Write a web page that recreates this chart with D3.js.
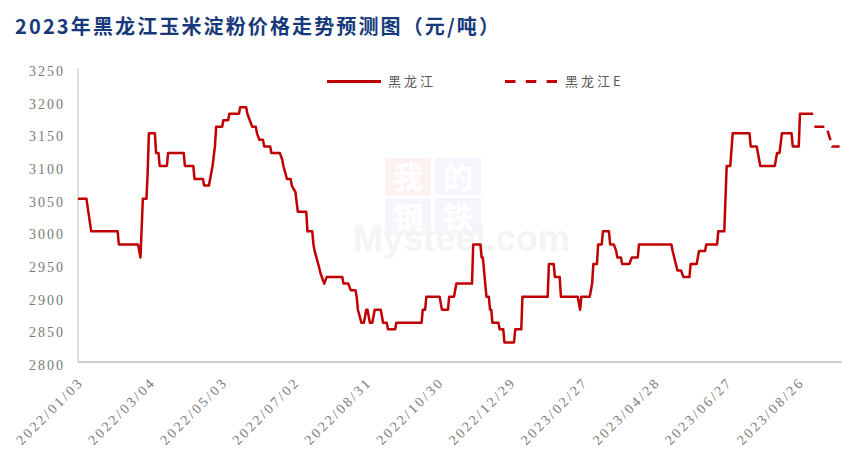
<!DOCTYPE html>
<html><head><meta charset="utf-8">
<script src="https://cdn.jsdelivr.net/npm/d3@7"></script>
<style>body{margin:0;background:#fff}svg{display:block}</style>
</head><body>
<svg id="c" width="867" height="471"></svg>
<script>
const title = "2023年黑龙江玉米淀粉价格走势预测图（元/吨）";
const seriesNames = ["黑龙江", "黑龙江E"];
const dates = ["2022-01-03","2022-01-10","2022-01-14","2022-02-05","2022-02-06","2022-02-22","2022-02-23","2022-02-24","2022-02-26","2022-03-01","2022-03-02","2022-03-03","2022-03-08","2022-03-09","2022-03-11","2022-03-12","2022-03-18","2022-03-19","2022-04-01","2022-04-02","2022-04-09","2022-04-10","2022-04-17","2022-04-18","2022-04-22","2022-04-25","2022-04-27","2022-04-28","2022-05-03","2022-05-04","2022-05-08","2022-05-09","2022-05-17","2022-05-18","2022-05-23","2022-05-24","2022-05-26","2022-05-28","2022-05-31","2022-06-01","2022-06-03","2022-06-06","2022-06-07","2022-06-12","2022-06-13","2022-06-20","2022-06-22","2022-06-23","2022-06-26","2022-06-29","2022-06-30","2022-07-03","2022-07-05","2022-07-12","2022-07-13","2022-07-17","2022-07-18","2022-07-19","2022-07-22","2022-07-24","2022-07-27","2022-07-29","2022-08-11","2022-08-12","2022-08-16","2022-08-18","2022-08-22","2022-08-23","2022-08-24","2022-08-27","2022-08-29","2022-08-31","2022-09-01","2022-09-03","2022-09-05","2022-09-07","2022-09-12","2022-09-14","2022-09-17","2022-09-18","2022-09-24","2022-09-25","2022-10-16","2022-10-17","2022-10-19","2022-10-20","2022-10-31","2022-11-02","2022-11-07","2022-11-08","2022-11-12","2022-11-14","2022-11-27","2022-11-28","2022-12-04","2022-12-05","2022-12-06","2022-12-09","2022-12-11","2022-12-12","2022-12-13","2022-12-14","2022-12-19","2022-12-20","2022-12-23","2022-12-24","2023-01-01","2023-01-02","2023-01-07","2023-01-08","2023-01-29","2023-01-30","2023-02-03","2023-02-04","2023-02-08","2023-02-09","2023-02-23","2023-02-25","2023-02-26","2023-03-05","2023-03-07","2023-03-08","2023-03-11","2023-03-12","2023-03-15","2023-03-16","2023-03-21","2023-03-22","2023-03-25","2023-03-27","2023-03-28","2023-03-31","2023-04-01","2023-04-07","2023-04-09","2023-04-14","2023-04-15","2023-05-12","2023-05-13","2023-05-17","2023-05-20","2023-05-22","2023-05-27","2023-05-28","2023-06-02","2023-06-04","2023-06-09","2023-06-10","2023-06-19","2023-06-20","2023-06-25","2023-06-27","2023-06-30","2023-07-02","2023-07-16","2023-07-17","2023-07-22","2023-07-23","2023-07-25","2023-08-06","2023-08-08","2023-08-10","2023-08-12","2023-08-20","2023-08-21","2023-08-26","2023-08-27","2023-09-07"];
const values = [3050,3050,3000,3000,2980,2980,2970,2960,3050,3050,3090,3150,3150,3120,3120,3100,3100,3120,3120,3100,3100,3080,3080,3070,3070,3100,3130,3160,3160,3170,3170,3180,3180,3190,3190,3180,3170,3160,3160,3150,3140,3140,3130,3130,3120,3120,3110,3100,3080,3080,3070,3060,3030,3030,3000,3000,2980,2970,2950,2935,2920,2930,2930,2920,2920,2910,2910,2900,2880,2860,2860,2880,2880,2860,2860,2880,2880,2860,2860,2850,2850,2860,2860,2880,2880,2900,2900,2880,2880,2900,2900,2920,2920,2980,2980,2960,2960,2900,2900,2880,2880,2860,2860,2850,2850,2830,2830,2850,2850,2900,2900,2950,2950,2930,2930,2900,2900,2880,2900,2900,2920,2950,2950,2980,2980,3000,3000,2980,2980,2970,2960,2960,2950,2950,2960,2960,2980,2980,2970,2940,2940,2930,2930,2950,2950,2970,2970,2980,2980,3000,3000,3100,3100,3150,3150,3130,3130,3120,3100,3100,3120,3120,3150,3150,3130,3130,3180,3180];
const forecastDates = ["2023-09-08","2023-09-18","2023-09-23","2023-09-29"];
const forecastValues = [3160,3160,3130,3130];
const yTicks = [2800,2850,2900,2950,3000,3050,3100,3150,3200,3250];
const xTickLabels = ["2022/01/03","2022/03/04","2022/05/03","2022/07/02","2022/08/31","2022/10/30","2022/12/29","2023/02/27","2023/04/28","2023/06/27","2023/08/26"];
const xDomain = ["2022-01-03","2023-10-01"];

const parse = d3.timeParse("%Y-%m-%d");
const parseTick = d3.timeParse("%Y/%m/%d");
const fmtTick = d3.timeFormat("%Y/%m/%d");
const main = dates.map((d,i)=>({date:parse(d), v:values[i]}));
const fc = forecastDates.map((d,i)=>({date:parse(d), v:forecastValues[i]}));

const svg = d3.select("#c");
const L = 78, R = 842, T = 68, B = 362;
const x = d3.scaleTime().domain(xDomain.map(parse)).range([L, R]);
const y = d3.scaleLinear().domain([2800, 3250]).range([B, T]);
const red = "#C00000";
const labFont = "'Liberation Serif', 'DejaVu Serif', serif";

// watermark
const wm = svg.append("g");
const cells = [
  {t:"我", x:385, y:158, f:"#fdf2f2"},
  {t:"的", x:435, y:158, f:"#f4f6fb"},
  {t:"钢", x:385, y:198, f:"#f4f6fb"},
  {t:"铁", x:435, y:198, f:"#f4f6fb"}];
wm.selectAll("rect").data(cells).join("rect")
  .attr("x",d=>d.x).attr("y",d=>d.y).attr("width",46).attr("height",37).attr("fill",d=>d.f);
wm.selectAll("text.c").data(cells).join("text").attr("class","c")
  .attr("x",d=>d.x+23).attr("y",d=>d.y+30).attr("text-anchor","middle")
  .attr("font-family","'Noto Sans CJK SC'").attr("font-weight","bold").attr("font-size",30)
  .attr("fill","#ffffff").text(d=>d.t);
wm.append("text").attr("x",353).attr("y",251).attr("font-family","'Liberation Sans', Arial, sans-serif")
  .attr("font-weight","bold").attr("font-size",36).attr("fill","#f4f4f4")
  .attr("textLength",217).attr("lengthAdjust","spacingAndGlyphs").text("Mysteel.com");

// title
svg.append("text").attr("x",15).attr("y",34)
  .attr("font-family","'Noto Sans CJK SC', sans-serif").attr("font-weight","bold")
  .attr("font-size",20).attr("fill","#17397A")
  .attr("textLength",484).attr("lengthAdjust","spacing").text(title);

// axes lines
svg.append("line").attr("x1",L).attr("x2",L).attr("y1",T).attr("y2",B).attr("stroke","#bfbfbf").attr("stroke-width",1);
svg.append("line").attr("x1",L).attr("x2",R).attr("y1",B).attr("y2",B).attr("stroke","#bfbfbf").attr("stroke-width",1.5);

// y axis labels
const ya = svg.append("g").attr("transform",`translate(${L},0)`)
  .call(d3.axisLeft(y).tickValues(yTicks).tickSize(0).tickPadding(13).tickFormat(d3.format("d")));
ya.select(".domain").remove();
ya.selectAll("text").attr("font-family",labFont).attr("font-size",14).attr("fill","#7a7a7a")
  .style("letter-spacing","2px").attr("dy","0.32em").attr("y",3);

// x axis labels
const xa = svg.append("g").attr("transform",`translate(0,${B})`)
  .call(d3.axisBottom(x).tickValues(xTickLabels.map(parseTick)).tickSize(0).tickFormat(fmtTick));
xa.select(".domain").remove();
xa.selectAll("text").attr("font-family",labFont).attr("font-size",14).attr("fill","#7a7a7a")
  .style("letter-spacing","2.5px").attr("x",0).attr("y",0).attr("dy",0)
  .attr("text-anchor","end").attr("transform","translate(6,21) rotate(-45)");

// lines
const line = d3.line().x(d=>x(d.date)).y(d=>y(d.v));
svg.append("path").datum(main).attr("d",line).attr("fill","none").attr("stroke",red)
  .attr("stroke-width",2.5).attr("stroke-linejoin","round");
svg.append("path").datum(fc).attr("d",line).attr("fill","none").attr("stroke",red)
  .attr("stroke-width",2.5).attr("stroke-dasharray","10,6");

// legend
const lg = svg.append("g");
lg.append("line").attr("x1",327).attr("x2",381).attr("y1",81.5).attr("y2",81.5).attr("stroke",red).attr("stroke-width",3);
lg.append("text").attr("x",388).attr("y",86).text(seriesNames[0]);
lg.append("line").attr("x1",505).attr("x2",557).attr("y1",81.5).attr("y2",81.5).attr("stroke",red).attr("stroke-width",3).attr("stroke-dasharray","10.5,10.3");
lg.append("text").attr("x",565).attr("y",86).text(seriesNames[1]);
lg.selectAll("text").attr("font-family","'Noto Sans CJK SC', sans-serif").attr("font-size",13)
  .attr("fill","#595959").style("letter-spacing","3px");
</script>
</body></html>
